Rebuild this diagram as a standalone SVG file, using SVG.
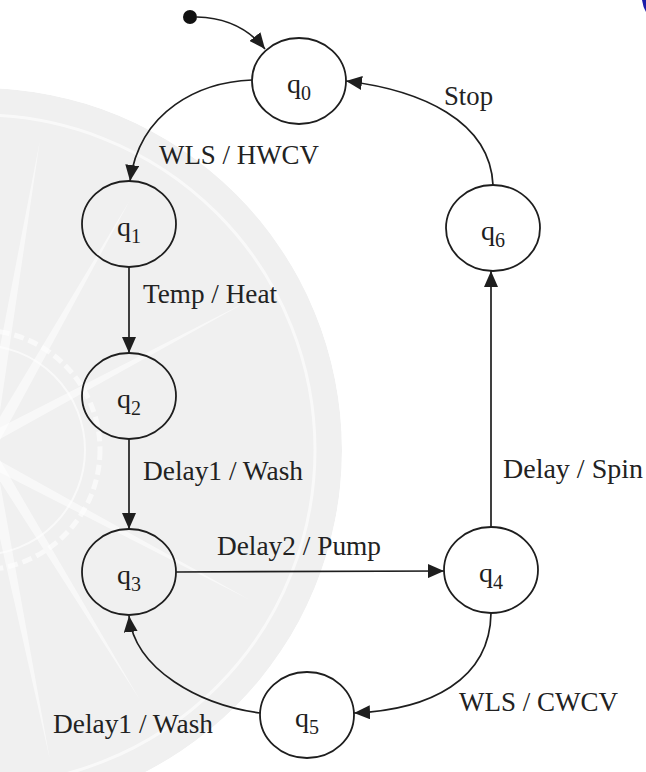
<svg xmlns="http://www.w3.org/2000/svg" width="646" height="772" viewBox="0 0 646 772">
  <style>
    .serif { font-family: 'Liberation Serif', 'DejaVu Serif', serif; }
    .node ellipse { fill: none; stroke: #1e1e1e; stroke-width: 1.8; }
    .node text { font-size: 28px; fill: #1e1e1e; text-anchor: middle; }
    .node tspan { font-size: 20px; }
    .edge { fill: none; stroke: #1e1e1e; stroke-width: 1.7; marker-end: url(#head); }
    .lbl { font-size: 27px; fill: #222; }
    .wm { fill: none; stroke: #ffffff; }
  </style>
  <defs>
    <marker id="head" markerUnits="userSpaceOnUse" markerWidth="17" markerHeight="14" refX="16" refY="7" orient="auto">
      <path d="M0,0 L16,7 L0,14 z" fill="#1e1e1e"/>
    </marker>
    <clipPath id="disk">
      <circle cx="-20" cy="450" r="362"/>
    </clipPath>
  </defs>

  <rect width="646" height="772" fill="#ffffff"/>

  <!-- faint crest in the background -->
  <g id="crest" clip-path="url(#disk)">
    <circle cx="-20" cy="450" r="362" fill="#f0f0f0"/>
    <circle class="wm" cx="-20" cy="450" r="335" stroke-width="3" stroke-opacity="0.6"/>
    <circle class="wm" cx="-20" cy="450" r="120" stroke-width="5" stroke-opacity="0.6" stroke-dasharray="10 5"/>
    <circle class="wm" cx="-20" cy="450" r="105" stroke-width="2" stroke-opacity="0.6"/>
    <g fill="#ffffff" fill-opacity="0.55">
      <path d="M-20,450 L250,300 L-5,430 z"/>
      <path d="M-20,450 L250,600 L-5,470 z"/>
      <path d="M-20,450 L130,200 L0,440 z"/>
      <path d="M-20,450 L140,700 L0,460 z"/>
      <path d="M-20,450 L40,140 L-5,445 z"/>
      <path d="M-20,450 L50,760 L-5,455 z"/>
    </g>
  </g>

  <!-- corner mark -->
  <path d="M642,0 L646,0 L646,12 Q643,7 642,0 z" fill="#1c1ca8"/>

  <g id="connectors">
    <circle cx="190" cy="17" r="7" fill="#111"/>
    <path class="edge" d="M197,17 Q240,18 265,49"/>
    <path class="edge" d="M252,80 C200,82 140,110 130,181"/>
    <path class="edge" d="M129,267 L129,353"/>
    <path class="edge" d="M129,439 L129,529"/>
    <path class="edge" d="M176,572 L444,571"/>
    <path class="edge" d="M491,527 L491,271"/>
    <path class="edge" d="M493,185 C490,120 420,90 346,81"/>
    <path class="edge" d="M491,613 C490,680 430,710 354,713"/>
    <path class="edge" d="M260,713 C200,705 135,670 129,616"/>

    <g class="serif">
      <text class="lbl" x="159" y="164" textLength="160" lengthAdjust="spacingAndGlyphs">WLS / HWCV</text>
      <text class="lbl" x="444" y="105" textLength="49" lengthAdjust="spacingAndGlyphs">Stop</text>
      <text class="lbl" x="143" y="303" textLength="134" lengthAdjust="spacingAndGlyphs">Temp / Heat</text>
      <text class="lbl" x="143" y="480" textLength="160" lengthAdjust="spacingAndGlyphs">Delay1 / Wash</text>
      <text class="lbl" x="217" y="555" textLength="164" lengthAdjust="spacingAndGlyphs">Delay2 / Pump</text>
      <text class="lbl" x="503" y="478" textLength="140" lengthAdjust="spacingAndGlyphs">Delay / Spin</text>
      <text class="lbl" x="459" y="711" textLength="159" lengthAdjust="spacingAndGlyphs">WLS / CWCV</text>
      <text class="lbl" x="53" y="733" textLength="160" lengthAdjust="spacingAndGlyphs">Delay1 / Wash</text>
    </g>
  </g>

  <g class="serif">
    <g id="q0" class="node"><ellipse cx="299" cy="81" rx="47" ry="43"/><text x="299" y="93">q<tspan dy="7">0</tspan></text></g>
    <g id="q1" class="node"><ellipse cx="129" cy="224" rx="47" ry="43"/><text x="129" y="236">q<tspan dy="7">1</tspan></text></g>
    <g id="q2" class="node"><ellipse cx="129" cy="396" rx="47" ry="43"/><text x="129" y="408">q<tspan dy="7">2</tspan></text></g>
    <g id="q3" class="node"><ellipse cx="129" cy="572" rx="47" ry="43"/><text x="129" y="584">q<tspan dy="7">3</tspan></text></g>
    <g id="q4" class="node"><ellipse cx="491" cy="570" rx="47" ry="43"/><text x="491" y="582">q<tspan dy="7">4</tspan></text></g>
    <g id="q5" class="node"><ellipse cx="307" cy="715" rx="47" ry="43"/><text x="307" y="727">q<tspan dy="7">5</tspan></text></g>
    <g id="q6" class="node"><ellipse cx="493" cy="228" rx="47" ry="43"/><text x="493" y="240">q<tspan dy="7">6</tspan></text></g>
  </g>
</svg>
